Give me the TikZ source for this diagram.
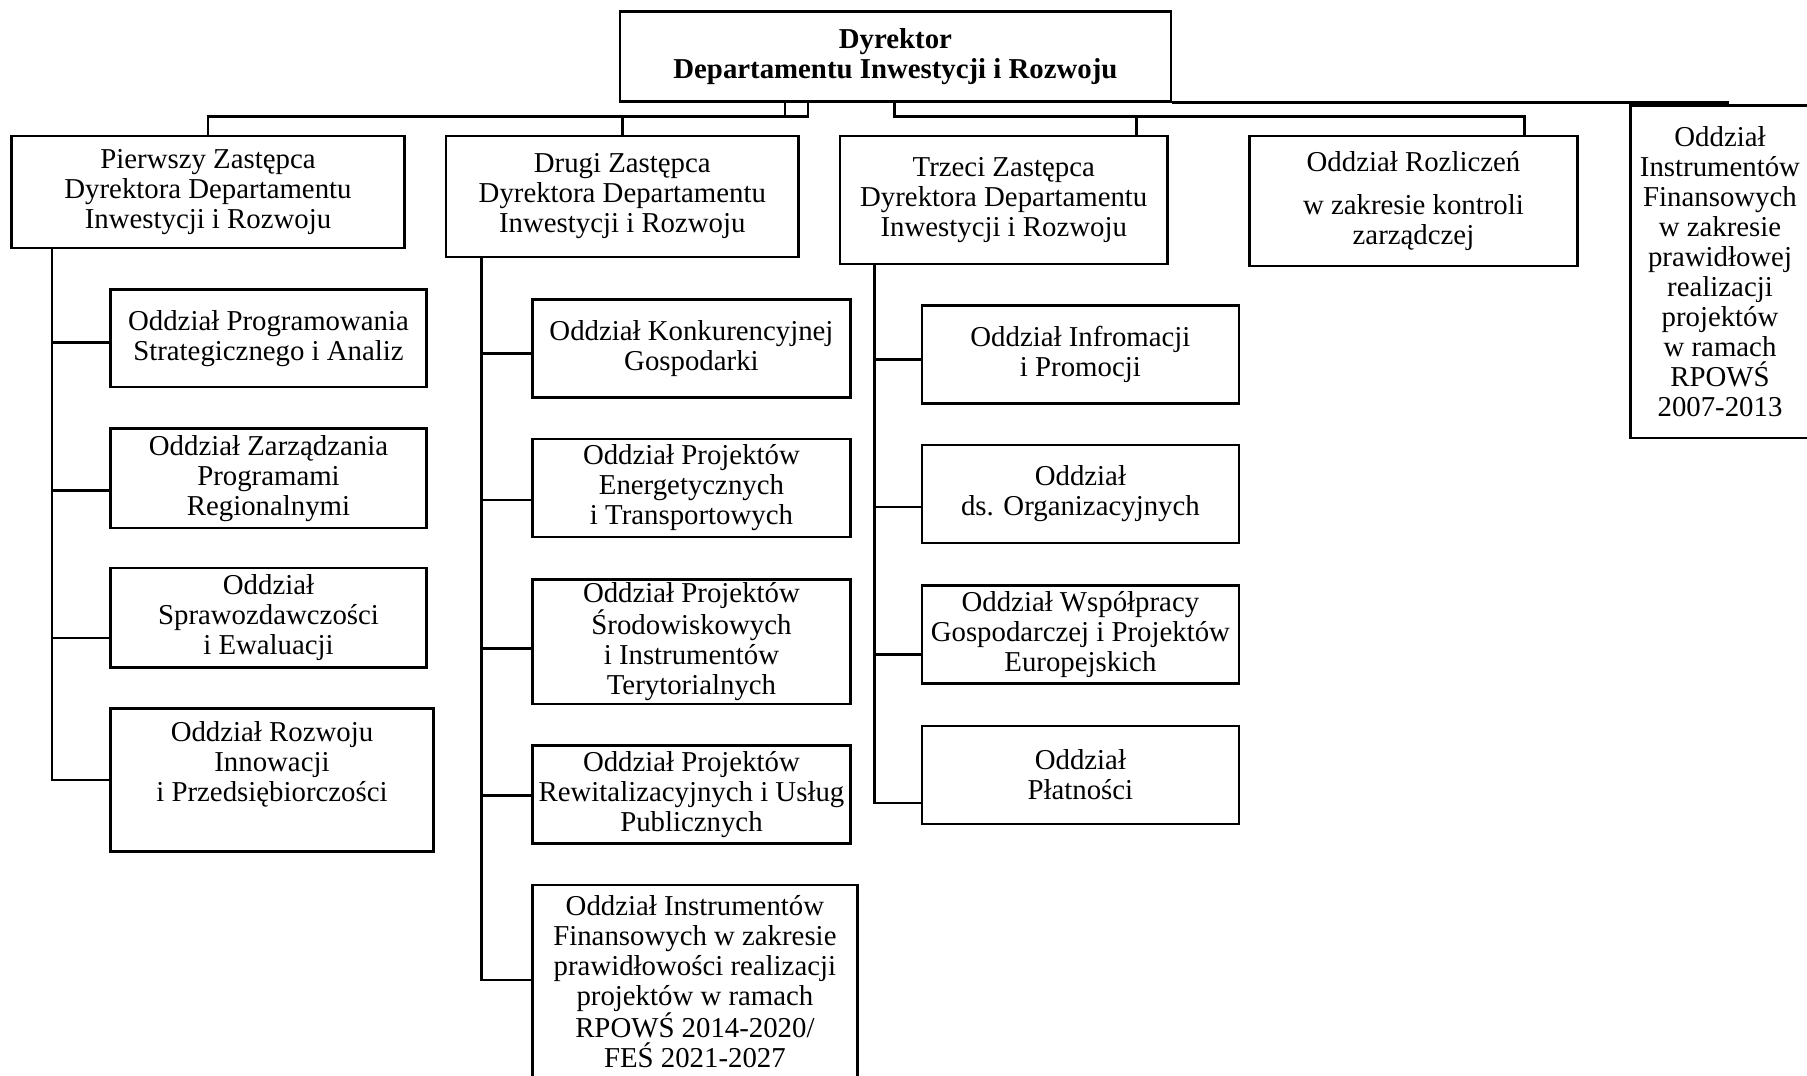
\documentclass[tikz,border=0pt]{standalone}
\usepackage{fontspec}
\setmainfont{Liberation Serif}
\usetikzlibrary{calc}
\newcommand{\orgfont}{\fontsize{25pt}{26pt}\selectfont}

\begin{document}
\begin{tikzpicture}[x=1pt, y=-1pt, line width=2.2pt, every node/.style={draw, rectangle, align=center, inner sep=0pt, line width=2.2pt, font=\orgfont}]

        \useasboundingbox (0,0) rectangle (1568,933);
        \clip (0,0) rectangle (1568,933);

        % kierownictwo
        \node[minimum width=478, minimum height=78, font=\orgfont\bfseries] (dyr) at (777,49) {Dyrektor\\Departamentu Inwestycji i Rozwoju};
        \node[minimum width=341, minimum height=97] (z1) at (180.5,166.5) {Pierwszy Zastępca\\Dyrektora Departamentu\\Inwestycji i Rozwoju};
        \node[minimum width=306, minimum height=105] (z2) at (540,170.5) {Drugi Zastępca\\Dyrektora Departamentu\\Inwestycji i Rozwoju};
        \node[minimum width=284, minimum height=111] (z3) at (871,173.5) {Trzeci Zastępca\\Dyrektora Departamentu\\Inwestycji i Rozwoju};
        \node[minimum width=285, minimum height=113] (rozl) at (1226.5,174.5) {Oddział Rozliczeń\\[11pt]w zakresie kontroli\\zarządczej};
        \node[minimum width=155, minimum height=288.5] (ifs) at (1492.5,235.75) {Oddział\\Instrumentów\\Finansowych\\w zakresie\\prawidłowej\\realizacji\\projektów\\w ramach\\RPOWŚ\\2007-2013};

        % oddzialy pierwszego zastepcy
        \node[minimum width=274, minimum height=85] (o11) at (233,293.5) {Oddział Programowania\\Strategicznego i Analiz};
        \node[minimum width=274, minimum height=86] (o12) at (233,415) {Oddział Zarządzania\\Programami\\Regionalnymi};
        \node[minimum width=274, minimum height=86] (o13) at (233,536) {Oddział\\Sprawozdawczości\\i Ewaluacji};
        \node[minimum width=280, minimum height=124, text depth=32pt] (o14) at (236,677) {Oddział Rozwoju\\Innowacji\\i Przedsiębiorczości};

        % oddzialy drugiego zastepcy
        \node[minimum width=276, minimum height=85] (o21) at (600,302.5) {Oddział Konkurencyjnej\\Gospodarki};
        \node[minimum width=276, minimum height=85] (o22) at (600,423.5) {Oddział Projektów\\Energetycznych\\i Transportowych};
        \node[minimum width=276, minimum height=108] (o23) at (600,557) {Oddział Projektów\\Środowiskowych\\i Instrumentów\\Terytorialnych};
        \node[minimum width=276, minimum height=85] (o24) at (600,689.5) {Oddział Projektów\\Rewitalizacyjnych i Usług\\Publicznych};
        \node[minimum width=282, minimum height=168] (o25) at (603,852) {Oddział Instrumentów\\Finansowych w zakresie\\prawidłowości realizacji\\projektów w ramach\\RPOWŚ 2014-2020/\\FEŚ 2021-2027};

        % oddzialy trzeciego zastepcy
        \node[minimum width=275, minimum height=85] (o31) at (937.5,307.5) {Oddział Infromacji\\i Promocji};
        \node[minimum width=275, minimum height=85] (o32) at (937.5,428.5) {Oddział\\ds. Organizacyjnych};
        \node[minimum width=275, minimum height=85] (o33) at (937.5,550.5) {Oddział Współpracy\\Gospodarczej i Projektów\\Europejskich};
        \node[minimum width=275, minimum height=85] (o34) at (937.5,672.5) {Oddział\\Płatności};

        % punkty pomocnicze
        \coordinate (a1) at (681,101);
        \coordinate (a2) at (701,101);
        \coordinate (a3) at (776,101);
        \coordinate (a4) at (986,101);
        \coordinate (a5) at (1323,101);
        \coordinate (e1) at (1500,88);
        \coordinate (s1) at (45,0);
        \coordinate (s2) at (418,0);
        \coordinate (s3) at (759,0);

        \draw (dyr.south -| a2) -- (a2) -| (z1.north);
        \draw (dyr.south -| a1) -- (a1) -| (z2.north);
        \draw (dyr.south -| a3) -- (a3) -- (a5) -- (a5 |- rozl.north);
        \draw (a4) -- (a4 |- z3.north);
        \draw (dyr.south east) -- (dyr.south east -| e1);

        \draw (z1.south -| s1) |- ($(o11.north west)!.54!(o11.south west)$);
        \draw (z1.south -| s1) |- ($(o12.north west)!.62!(o12.south west)$);
        \draw (z1.south -| s1) |- ($(o13.north west)!.70!(o13.south west)$);
        \draw (z1.south -| s1) |- (o14.west);

        \draw (z2.south -| s2) |- ($(o21.north west)!.55!(o21.south west)$);
        \draw (z2.south -| s2) |- ($(o22.north west)!.62!(o22.south west)$);
        \draw (z2.south -| s2) |- ($(o23.north west)!.55!(o23.south west)$);
        \draw (z2.south -| s2) |- ($(o24.north west)!.51!(o24.south west)$);
        \draw (z2.south -| s2) |- ($(o25.north west)!.49!(o25.south west)$);

        \draw (z3.south -| s3) |- ($(o31.north west)!.55!(o31.south west)$);
        \draw (z3.south -| s3) |- ($(o32.north west)!.63!(o32.south west)$);
        \draw (z3.south -| s3) |- ($(o33.north west)!.70!(o33.south west)$);
        \draw (z3.south -| s3) |- ($(o34.north west)!.78!(o34.south west)$);

\end{tikzpicture}
\end{document}
